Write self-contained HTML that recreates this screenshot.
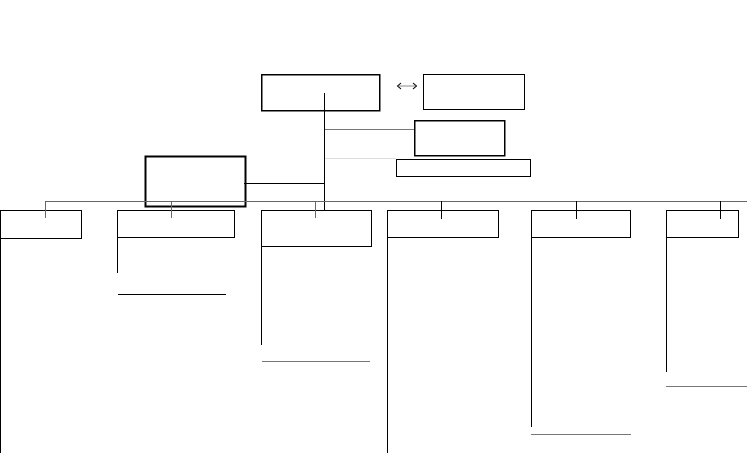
<!DOCTYPE html>
<html><head><meta charset="utf-8"><style>html,body{margin:0;padding:0;background:#fff;width:747px;height:453px;overflow:hidden}</style></head>
<body>
<svg width="747" height="453" viewBox="0 0 747 453" xmlns="http://www.w3.org/2000/svg" fill="none" shape-rendering="crispEdges">
<!-- top boxes -->
<rect x="261.5" y="74.5" width="118" height="36" stroke="#000" stroke-width="1.5"/>
<rect x="423.5" y="74.5" width="101" height="35" stroke="#000" stroke-width="1"/>
<!-- double arrow -->
<g stroke="#888" stroke-width="1" shape-rendering="auto">
<line x1="399" y1="86" x2="415" y2="86"/>
<polyline points="401,83 397.5,86 401,89" stroke="#000"/>
<polyline points="413,83 416.5,86 413,89" stroke="#000"/>
</g>
<!-- center vertical -->
<line x1="324.5" y1="93" x2="324.5" y2="210" stroke="#000" stroke-width="1.2"/>
<!-- side boxes -->
<rect x="414.5" y="120.5" width="90" height="35" stroke="#000" stroke-width="1.5"/>
<line x1="325" y1="129.5" x2="414" y2="129.5" stroke="#777"/>
<rect x="396.5" y="159.5" width="134" height="17" stroke="#000" stroke-width="1"/>
<line x1="325" y1="158.5" x2="396" y2="158.5" stroke="#ddd"/>
<!-- left box -->
<rect x="145.5" y="156.5" width="100" height="50" stroke="#000" stroke-width="1.6"/>
<line x1="244" y1="183.5" x2="324" y2="183.5" stroke="#000" stroke-width="1"/>
<!-- bus -->
<line x1="45" y1="201.5" x2="747" y2="201.5" stroke="#666"/>
<!-- children -->
<g stroke="#000" stroke-width="1">
<rect x="0.5" y="210.5" width="81" height="28"/>
<rect x="117.5" y="210.5" width="117" height="27"/>
<rect x="261.5" y="210.5" width="110" height="36"/>
<rect x="387.5" y="210.5" width="111" height="27"/>
<rect x="531.5" y="210.5" width="99" height="27"/>
<rect x="666.5" y="210.5" width="72" height="27"/>
</g>
<!-- drops -->
<g stroke="#666">
<line x1="45.5" y1="201" x2="45.5" y2="218"/>
<line x1="171.5" y1="201" x2="171.5" y2="218"/>
<line x1="315.5" y1="201" x2="315.5" y2="218"/>
</g>
<g stroke="#000">
<line x1="441.5" y1="201" x2="441.5" y2="219"/>
<line x1="576.5" y1="201" x2="576.5" y2="219"/>
<line x1="720.5" y1="201" x2="720.5" y2="219"/>
</g>
<!-- verticals -->
<g stroke="#000" stroke-width="1">
<line x1="0.5" y1="238" x2="0.5" y2="453"/>
<line x1="117.5" y1="237" x2="117.5" y2="273"/>
<line x1="261.5" y1="246" x2="261.5" y2="345"/>
<line x1="387.5" y1="237" x2="387.5" y2="453"/>
<line x1="531.5" y1="237" x2="531.5" y2="427"/>
<line x1="666.5" y1="237" x2="666.5" y2="372"/>
</g>
<!-- underlines -->
<line x1="118" y1="294.5" x2="226" y2="294.5" stroke="#000"/>
<line x1="262" y1="361.5" x2="370" y2="361.5" stroke="#777"/>
<line x1="531" y1="434.5" x2="631" y2="434.5" stroke="#777"/>
<line x1="666" y1="386.5" x2="747" y2="386.5" stroke="#777"/>
</svg>
</body></html>
